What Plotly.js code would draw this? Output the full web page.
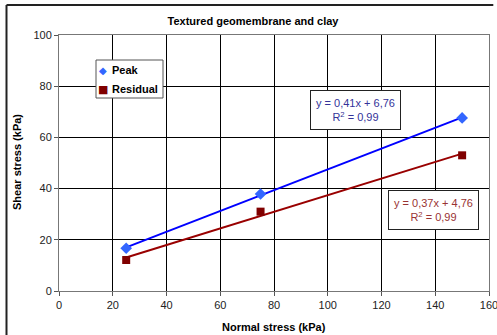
<!DOCTYPE html>
<html>
<head>
<meta charset="utf-8">
<script src="https://cdn.plot.ly/plotly-3.0.1.min.js"></script>
<style>html,body{margin:0;padding:0;background:#fff;}#chart{width:497px;height:335px;}</style>
</head>
<body>
<div id="chart"></div>
<script>
// Data
const normalStress = [25, 75, 150];
const peakShear = [16.7, 37.9, 67.6];
const residualShear = [12.1, 31.0, 53.0];
const seriesNames = ["Peak", "Residual"];
const peakEquation = "y = 0,41x + 6,76<br>R<sup>2</sup> = 0,99";
const residualEquation = "y = 0,37x + 4,76<br>R<sup>2</sup> = 0,99";
const xTicks = [0, 20, 40, 60, 80, 100, 120, 140, 160];
const yTicks = [0, 20, 40, 60, 80, 100];

function linFit(xs, ys) {
  const n = xs.length;
  const mx = xs.reduce((a, b) => a + b, 0) / n;
  const my = ys.reduce((a, b) => a + b, 0) / n;
  let sxy = 0, sxx = 0;
  for (let i = 0; i < n; i++) { sxy += (xs[i] - mx) * (ys[i] - my); sxx += (xs[i] - mx) ** 2; }
  const m = sxy / sxx;
  return { m: m, b: my - m * mx };
}
function fitLine(xs, ys) {
  const f = linFit(xs, ys);
  const x0 = Math.min(...xs), x1 = Math.max(...xs);
  return { x: [x0, x1], y: [f.m * x0 + f.b, f.m * x1 + f.b] };
}
const pf = fitLine(normalStress, peakShear);
const rf = fitLine(normalStress, residualShear);

const FONT = "Liberation Sans, Arial, sans-serif";

const traces = [
  { x: pf.x, y: pf.y, mode: "lines", line: { color: "#0000ff", width: 2 }, hoverinfo: "skip" },
  { x: rf.x, y: rf.y, mode: "lines", line: { color: "#990000", width: 2 }, hoverinfo: "skip" },
  { x: normalStress, y: peakShear, name: seriesNames[0], mode: "markers",
    marker: { symbol: "diamond", size: 9, color: "#3366ff" } },
  { x: normalStress, y: residualShear, name: seriesNames[1], mode: "markers",
    marker: { symbol: "square", size: 8, color: "#800000" } }
];

const layout = {
  width: 497, height: 335,
  margin: { l: 59, r: 8, t: 35, b: 44 },
  paper_bgcolor: "#ffffff", plot_bgcolor: "#ffffff",
  showlegend: false,
  font: { family: FONT, size: 11, color: "#222" },
  title: { text: "<b>Textured geomembrane and clay</b>", font: { family: FONT, size: 11, color: "#000" },
    x: 253 / 497, xref: "container", xanchor: "center", y: 1 - 21 / 335, yref: "container", yanchor: "middle" },
  xaxis: { range: [0, 160], tickvals: xTicks, ticktext: xTicks.map(String), showgrid: true, gridcolor: "#000", gridwidth: 1,
    zeroline: false, showline: true, linecolor: "#777", linewidth: 1, mirror: true, ticklabeloverflow: "allow",
    ticks: "outside", ticklen: 4, tickcolor: "#555", tickfont: { family: FONT, size: 11, color: "#222" } },
  yaxis: { range: [0, 100], tickvals: yTicks, ticktext: yTicks.map(String), showgrid: true, gridcolor: "#000", gridwidth: 1,
    zeroline: false, showline: true, linecolor: "#777", linewidth: 1, mirror: true, ticklabeloverflow: "allow",
    ticks: "outside", ticklen: 4, tickcolor: "#555", tickfont: { family: FONT, size: 11, color: "#222" } },
  shapes: [
    { type: "line", xref: "paper", yref: "paper", x0: -0.1221, x1: 1.01, y0: 1.1172, y1: 1.1172, line: { color: "#222", width: 2 } },
    { type: "line", xref: "paper", yref: "paper", x0: -0.1221, x1: -0.1221, y0: 1.1172, y1: -0.25, line: { color: "#222", width: 2 } },
    { type: "rect", xref: "paper", yref: "paper", x0: (96 - 59) / 430, x1: (163 - 59) / 430, y0: (291 - 98) / 256, y1: (291 - 60) / 256,
      line: { color: "#555", width: 1 }, fillcolor: "#ffffff" }
  ],
  annotations: [
    { xref: "paper", yref: "paper", x: (103 - 59) / 430, y: (291 - 70) / 256, text: "◆", showarrow: false,
      font: { family: "DejaVu Sans", size: 10, color: "#3366ff" }, xanchor: "center", yanchor: "middle" },
    { xref: "paper", yref: "paper", x: (110 - 59) / 430, y: (291 - 70) / 256, text: "<b>" + seriesNames[0] + "</b>", showarrow: false,
      font: { family: FONT, size: 11, color: "#000" }, xanchor: "left", yanchor: "middle" },
    { xref: "paper", yref: "paper", x: (103 - 59) / 430, y: (291 - 89) / 256, text: "■", showarrow: false,
      font: { family: "DejaVu Sans", size: 11, color: "#800000" }, xanchor: "center", yanchor: "middle" },
    { xref: "paper", yref: "paper", x: (110 - 59) / 430, y: (291 - 89) / 256, text: "<b>" + seriesNames[1] + "</b>", showarrow: false,
      font: { family: FONT, size: 11, color: "#000" }, xanchor: "left", yanchor: "middle" },
    { xref: "paper", yref: "paper", x: (355 - 59) / 430, y: (291 - 110) / 256, text: peakEquation, showarrow: false,
      font: { family: FONT, size: 11, color: "#333399" }, bgcolor: "#fff", bordercolor: "#222", borderwidth: 1, borderpad: 1,
      width: 87, height: 36, align: "center", xanchor: "center", yanchor: "middle" },
    { xref: "paper", yref: "paper", x: (433.5 - 59) / 430, y: (291 - 210) / 256, text: residualEquation, showarrow: false,
      font: { family: FONT, size: 11, color: "#993333" }, bgcolor: "#fff", bordercolor: "#222", borderwidth: 1, borderpad: 1,
      width: 87, height: 36, align: "center", xanchor: "center", yanchor: "middle" },
    { xref: "paper", yref: "paper", x: (17 - 59) / 430, y: (291 - 162) / 256, text: "<b>Shear stress (kPa)</b>", showarrow: false, textangle: -90,
      font: { family: FONT, size: 11, color: "#000" }, xanchor: "center", yanchor: "middle" },
    { xref: "paper", yref: "paper", x: (274 - 59) / 430, y: (291 - 326.5) / 256, text: "<b>Normal stress (kPa)</b>", showarrow: false,
      font: { family: FONT, size: 11, color: "#000" }, xanchor: "center", yanchor: "middle" }
  ]
};

Plotly.newPlot("chart", traces, layout, { displayModeBar: false, staticPlot: true });
</script>
</body>
</html>
